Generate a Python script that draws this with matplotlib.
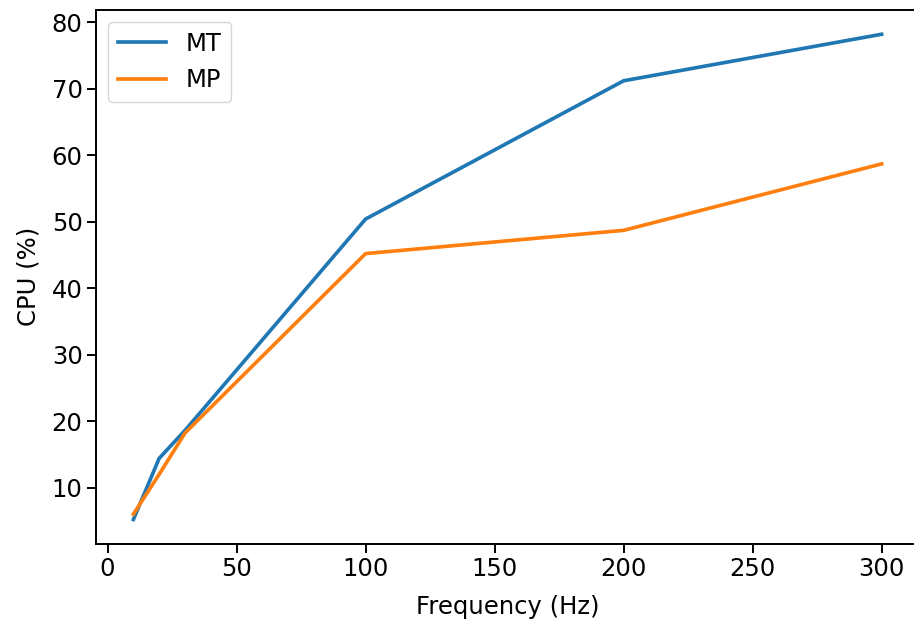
import matplotlib
matplotlib.use("Agg")
import matplotlib.pyplot as plt

# data
freq = [10, 20, 30, 100, 200, 300]
mt_cpu = [5.2, 14.4, 18.6, 50.4, 71.2, 78.2]
mp_cpu = [6.0, 12.0, 18.2, 45.2, 48.7, 58.7]

s = 1.75  # scale from a higher-dpi original
plt.rcParams["font.size"] = 10 * s
plt.rcParams["axes.linewidth"] = 0.8 * s
plt.rcParams["xtick.major.width"] = 0.8 * s
plt.rcParams["ytick.major.width"] = 0.8 * s
plt.rcParams["xtick.major.size"] = 3.5 * s
plt.rcParams["ytick.major.size"] = 3.5 * s

fig, ax = plt.subplots(figsize=(9.14, 6.25), dpi=100)
# the original image crops the right spine off
fig.subplots_adjust(left=0.105, right=1.0055, top=0.984, bottom=0.130)

ax.plot(freq, mt_cpu, label="MT", linewidth=1.5 * s)
ax.plot(freq, mp_cpu, label="MP", linewidth=1.5 * s)

ax.set_xlabel("Frequency (Hz)", labelpad=10)
ax.set_ylabel("CPU (%)", labelpad=8)
ax.legend(loc="upper left")

fig.savefig("out.png", dpi=100)
